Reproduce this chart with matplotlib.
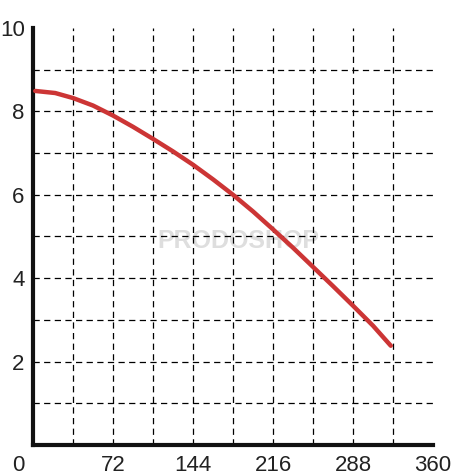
import matplotlib
matplotlib.use("Agg")
import matplotlib.pyplot as plt
import matplotlib.transforms as mtransforms

plt.rcParams['font.family'] = ['Liberation Sans', 'DejaVu Sans']

# данні кривої
flow = [2, 20, 36, 54, 72, 90, 108, 126, 144, 162, 180, 198, 216, 234, 252, 270, 288, 306, 322]
head = [8.49, 8.44, 8.32, 8.14, 7.90, 7.63, 7.34, 7.04, 6.72, 6.37, 6.00, 5.60, 5.17, 4.73, 4.27, 3.81, 3.34, 2.86, 2.38]

x_ticks = [0, 72, 144, 216, 288, 360]
y_ticks = [2, 4, 6, 8, 10]
x_grid = [36, 72, 108, 144, 180, 216, 252, 288, 324]
y_grid = [1, 2, 3, 4, 5, 6, 7, 8, 9]

fig = plt.figure(figsize=(4.75, 4.75), dpi=100)
ax = fig.add_axes([0.0695, 0.0632, 0.8421, 0.8779])
ax.set_xlim(0, 360)
ax.set_ylim(0, 10)

# сітка
for gx in x_grid:
    ax.plot([gx, gx], [0, 10], color='black', lw=0.9, ls=(0, (5, 3.5)), zorder=2)
for gy in y_grid:
    ax.plot([0, 360], [gy, gy], color='black', lw=0.9, ls=(0, (5, 3.5)), zorder=2)

# водяний знак
ax.text(185, 4.9, 'PRODOSHOP', color='#dedede', fontsize=18, fontweight='bold',
        ha='center', va='center', zorder=1)

ax.plot(flow, head, color='#cc3535', lw=3.2, solid_capstyle='round',
        solid_joinstyle='round', zorder=3)

for s in ['top', 'right']:
    ax.spines[s].set_visible(False)
for s in ['left', 'bottom']:
    ax.spines[s].set_linewidth(3)
    ax.spines[s].set_color('#111111')

ax.set_xticks(x_ticks)
ax.set_yticks(y_ticks)
ax.set_xticklabels([str(v) for v in x_ticks])
ax.set_yticklabels([str(v) for v in y_ticks])
ax.tick_params(length=0, labelsize=16, colors='#222222', pad=7)
ax.tick_params(axis='y', pad=6)

# "0" зсунутий ліворуч
lbl0 = ax.get_xticklabels()[0]
lbl0.set_transform(lbl0.get_transform() + mtransforms.ScaledTranslation(-15 / 100, 0, fig.dpi_scale_trans))

fig.savefig('out.png', dpi=100)
